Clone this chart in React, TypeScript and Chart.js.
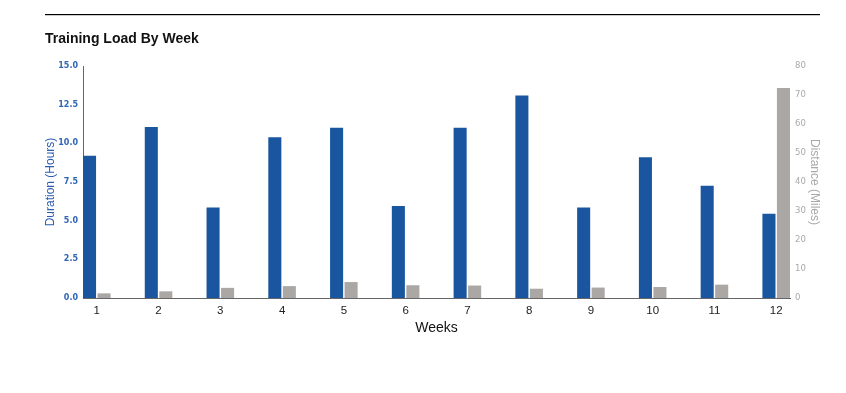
import React, { useEffect, useRef } from "react";
import { Chart, registerables } from "chart.js";

Chart.register(...registerables);

// ---- data ----
const weeks = [1, 2, 3, 4, 5, 6, 7, 8, 9, 10, 11, 12];
const durationHours = [9.2, 11.05, 5.85, 10.4, 11.0, 5.95, 11.0, 13.1, 5.85, 9.1, 7.25, 5.45];
const distanceMiles = [1.6, 2.3, 3.5, 4.1, 5.5, 4.4, 4.3, 3.2, 3.6, 3.8, 4.6, 72.4];
const durationRange = [0, 15];
const durationStep = 2.5;
const distanceRange = [0, 80];
const distanceStep = 10;

const chartTitle = "Training Load By Week";
const xTitle = "Weeks";
const leftTitle = "Duration (Hours)";
const rightTitle = "Distance (Miles)";

const BLUE = "#1a56a0";
const GRAY = "#aba7a5";
const EDGE_PAD = 0.2233;

const topRule = {
  id: "topRule",
  beforeDraw(chart: any) {
    const ctx = chart.ctx;
    ctx.save();
    ctx.fillStyle = "#000";
    ctx.fillRect(45, 14, 775, 1.2);
    ctx.restore();
  },
};

export default function App() {
  const ref = useRef<HTMLCanvasElement | null>(null);

  useEffect(() => {
    if (!ref.current) return;
    Chart.defaults.font.family = "'Liberation Sans', Arial, sans-serif";
    const chart = new Chart(ref.current, {
      type: "bar",
      data: {
        datasets: [
          {
            label: leftTitle,
            data: weeks.map((w, i) => ({ x: w, y: durationHours[i] })),
            backgroundColor: BLUE,
            yAxisID: "y",
            categoryPercentage: 0.47,
            barPercentage: 0.9,
          },
          {
            label: rightTitle,
            data: weeks.map((w, i) => ({ x: w, y: distanceMiles[i] })),
            backgroundColor: GRAY,
            yAxisID: "y1",
            categoryPercentage: 0.47,
            barPercentage: 0.9,
          },
        ],
      },
      options: {
        animation: false,
        responsive: false,
        devicePixelRatio: 1,
        layout: { padding: { left: 45, right: 0, top: 0, bottom: 45 } },
        plugins: {
          legend: { display: false },
          tooltip: { enabled: false },
          title: {
            display: true,
            text: chartTitle,
            align: "start",
            color: "#111",
            font: { size: 14, weight: "bold", lineHeight: 1.2 },
            padding: { top: 31.2, bottom: 18 },
          },
        },
        scales: {
          x: {
            type: "linear",
            offset: false,
            min: weeks[0] - EDGE_PAD,
            max: weeks[weeks.length - 1] + EDGE_PAD,
            afterBuildTicks: (s: any) => {
              s.ticks = weeks.map((v) => ({ value: v }));
            },
            afterFit: (s: any) => {
              s.height = 50;
            },
            ticks: {
              color: "#222",
              font: { size: 11.5 },
              padding: 6,
              autoSkip: false,
              maxRotation: 0,
            },
            grid: { display: false, drawTicks: false },
            border: { display: true, color: "#666", width: 1 },
            title: {
              display: true,
              text: xTitle,
              color: "#111",
              font: { size: 14 },
              padding: { top: 0, bottom: 11.6 },
            },
          },
          y: {
            position: "left",
            min: durationRange[0],
            max: durationRange[1],
            afterFit: (s: any) => {
              s.width = 38;
            },
            ticks: {
              stepSize: durationStep,
              callback: (v: any) => Number(v).toFixed(1),
              color: "#2f65b7",
              font: { family: "'DejaVu Sans'", size: 8, weight: "bold" },
              padding: 5,
            },
            grid: { display: false, drawTicks: false },
            border: { display: true, color: "#666", width: 1 },
            title: {
              display: true,
              text: leftTitle,
              color: "#2a5caf",
              font: { size: 12, lineHeight: 1 },
              padding: { top: 0, bottom: 0 },
            },
          },
          y1: {
            position: "right",
            min: distanceRange[0],
            max: distanceRange[1],
            afterFit: (s: any) => {
              s.width = 56;
            },
            ticks: {
              stepSize: distanceStep,
              color: "#aaaaaa",
              font: { family: "'DejaVu Sans'", size: 8.5 },
              padding: 5,
            },
            grid: { display: false, drawTicks: false },
            border: { display: false },
            title: {
              display: true,
              text: rightTitle,
              color: "#a8a8a8",
              font: { size: 12, lineHeight: 1.2 },
              padding: { top: 24, bottom: 0 },
            },
          },
        },
      },
      plugins: [topRule],
    } as any);
    return () => chart.destroy();
  }, []);

  return (
    <div style={{ position: "absolute", left: 0, top: 0, width: 846, height: 393, background: "#fff" }}>
      <canvas ref={ref} width={846} height={393} style={{ display: "block" }} />
    </div>
  );
}
